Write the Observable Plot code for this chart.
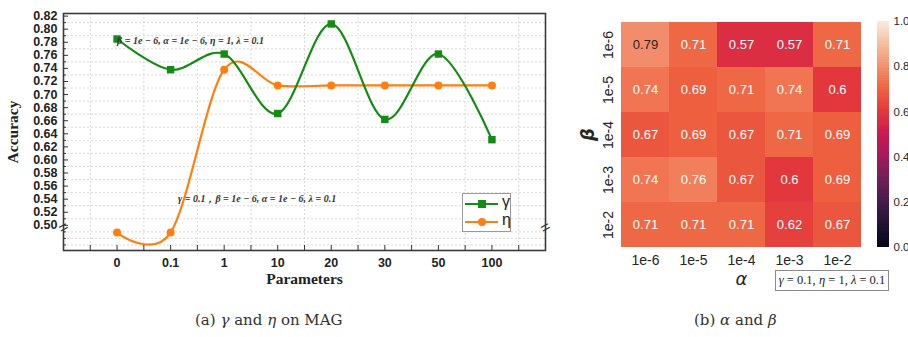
<!DOCTYPE html>
<html>
<head>
<meta charset="utf-8">
<script src="https://cdn.jsdelivr.net/npm/d3@7"></script>
<script src="https://cdn.jsdelivr.net/npm/@observablehq/plot@0.6"></script>
<style>
  html, body { margin: 0; padding: 0; background: #fff; }
  #wrap { position: relative; width: 908px; height: 337px; overflow: hidden; background: #fff; }
  .abs { position: absolute; }
  .cap { position: absolute; top: 311px; font-family: "DejaVu Serif", serif; font-size: 15px; color: #333; white-space: nowrap; }
  .cap i { font-style: italic; }
  #legend { position: absolute; left: 462px; top: 193px; width: 47px; height: 37px; border: 1px solid #9a9a9a; background: #fff; }
  .lrow { position: absolute; left: 2px; height: 16px; width: 46px; }
  .lline { position: absolute; left: 0; top: 7px; width: 33px; height: 2px; }
  .lmark { position: absolute; left: 13px; }
  .llab { position: absolute; left: 37px; top: -3px; font-family: "Liberation Sans", sans-serif; font-size: 16px; color: #222; }
  #note { position: absolute; left: 775px; top: 270px; width: 112px; height: 19px; border: 1px solid #8a8a8a; font-family: "Liberation Serif", serif; font-size: 12.5px; line-height: 19px; text-align: center; color: #222; white-space: nowrap; }
</style>
</head>
<body>
<div id="wrap">
  <div id="left" class="abs" style="left:0;top:0"></div>
  <div id="right" class="abs" style="left:570px;top:0"></div>
  <div id="cbar" class="abs" style="left:868px;top:0"></div>
  <div id="legend"></div>
  <div id="note"></div>
  <div class="cap" style="left:195px">(a) <i>γ</i> and <i>η</i> on MAG</div>
  <div class="cap" style="left:694px">(b) <i>α</i> and <i>β</i></div>
</div>
<script>
// ---------- Data: left panel ----------
const params = ["0", "0.1", "1", "10", "20", "30", "50", "100"];
const gammaAcc = [0.785, 0.738, 0.762, 0.671, 0.808, 0.662, 0.762, 0.631];
const etaAcc = [0.489, 0.489, 0.738, 0.714, 0.714, 0.714, 0.714, 0.714];
const yMajorTicks = [0.50, 0.52, 0.54, 0.56, 0.58, 0.60, 0.62, 0.64, 0.66, 0.68, 0.70, 0.72, 0.74, 0.76, 0.78, 0.80, 0.82];
const yMinorTicks = [0.47, 0.48, 0.49, 0.51, 0.53, 0.55, 0.57, 0.59, 0.61, 0.63, 0.65, 0.67, 0.69, 0.71, 0.73, 0.75, 0.77, 0.79, 0.81];
const yGridLines = [0.47, 0.48, 0.49, 0.51, 0.53, 0.55, 0.57, 0.59, 0.61, 0.63, 0.65, 0.67, 0.69, 0.71, 0.73, 0.75, 0.77, 0.79, 0.81];
const xHalfTicks = [-0.5, 0.5, 1.5, 2.5, 3.5, 4.5, 5.5, 6.5, 7.5];
const gammaNote = "β = 1e − 6, α = 1e − 6, η = 1, λ = 0.1";
const etaNote = "γ = 0.1，β = 1e − 6, α = 1e − 6, λ = 0.1";

// ---------- Data: right panel ----------
const alphas = ["1e-6", "1e-5", "1e-4", "1e-3", "1e-2"];
const betas = ["1e-6", "1e-5", "1e-4", "1e-3", "1e-2"];
const heatValues = [
  [0.79, 0.71, 0.57, 0.57, 0.71],
  [0.74, 0.69, 0.71, 0.74, 0.6],
  [0.67, 0.69, 0.67, 0.71, 0.69],
  [0.74, 0.76, 0.67, 0.6, 0.69],
  [0.71, 0.71, 0.71, 0.62, 0.67]
];
const cbarTicks = [0, 0.2, 0.4, 0.6, 0.8, 1.0];
const rocketCol = ["#03051a", "#221331", "#461b4c", "#701f57", "#a21a5b", "#ca1a50", "#e2373d", "#ef6340", "#f3916f", "#f6bea0", "#faebdd"];

const green = "#148c14";
const orange = "#ff7f0e";

const idx = params.map((_, i) => i);
const gammaData = idx.map(i => ({i, v: gammaAcc[i]}));
const etaData = idx.map(i => ({i, v: etaAcc[i]}));

const serif = "'Liberation Serif', 'Times New Roman', serif";

const left = Plot.plot({
  width: 560, height: 300,
  marginLeft: 63, marginRight: 15, marginTop: 13, marginBottom: 50,
  style: {fontFamily: "'Liberation Sans', Arial, sans-serif", fontWeight: "bold", fontSize: "12.5px", color: "#222", background: "transparent"},
  x: {domain: [-1, 8]},
  y: {domain: [0.4615, 0.824]},
  marks: [
    Plot.ruleY(yGridLines, {y: d => d, stroke: "#cfcfcf", strokeDasharray: "2,2", strokeWidth: 0.8}),
    Plot.ruleX(xHalfTicks, {x: d => d, stroke: "#cfcfcf", strokeDasharray: "2,2", strokeWidth: 0.8}),
    Plot.line(etaData, {x: "i", y: "v", stroke: orange, strokeWidth: 2.2, curve: "cardinal", tension: 0}),
    Plot.line(gammaData, {x: "i", y: "v", stroke: green, strokeWidth: 2.2, curve: "cardinal", tension: 0}),
    Plot.dot(etaData, {x: "i", y: "v", fill: orange, r: 4, symbol: "circle"}),
    Plot.dot(gammaData, {x: "i", y: "v", fill: green, r: 4.2, symbol: "square"}),
    Plot.text([gammaNote], {x: 0, y: 0.783, text: d => d, textAnchor: "start", fontFamily: serif, fontStyle: "italic", fontWeight: "bold", fontSize: 10, fill: "#333"}),
    Plot.text([etaNote], {x: 1.14, y: 0.541, text: d => d, textAnchor: "start", fontFamily: serif, fontStyle: "italic", fontWeight: "bold", fontSize: 10, fill: "#333"}),
    Plot.text(["="], {x: -1, y: 0.4965, text: d => d, rotate: -28, fontSize: 16, fontWeight: "normal", fill: "#333"}),
    Plot.text(["="], {x: 8, y: 0.4965, text: d => d, rotate: -28, fontSize: 16, fontWeight: "normal", fill: "#333"}),
    Plot.frame({stroke: "#3a3a3a", strokeWidth: 1.6}),
    Plot.axisY(yMajorTicks, {tickSize: 0, tickPadding: 6, tickFormat: d => d.toFixed(2), label: null}),
    Plot.axisY(yMajorTicks, {tickSize: 5, dx: 5, tickFormat: () => "", label: null, stroke: "#333"}),
    Plot.axisY(yMinorTicks, {tickSize: 3, dx: 3, tickFormat: () => "", label: null, stroke: "#333"}),
    Plot.axisX(idx, {tickSize: 0, tickPadding: 8, tickFormat: i => params[i], label: null}),
    Plot.axisX(idx.concat(xHalfTicks), {tickSize: 5, dy: -5, tickFormat: () => "", label: null, stroke: "#333"}),
    Plot.text(["Accuracy"], {frameAnchor: "left", textAnchor: "middle", dx: -50, rotate: -90, text: d => d, fontFamily: serif, fontWeight: "bold", fontSize: 15.5, fill: "#222"}),
    Plot.text(["Parameters"], {frameAnchor: "bottom", dy: 33, text: d => d, fontFamily: serif, fontWeight: "bold", fontSize: 15.5, fill: "#222"})
  ]
});
document.getElementById("left").appendChild(left);

// Legend
const legend = document.getElementById("legend");
[["γ", green, "square"], ["η", orange, "circle"]].forEach(([lab, col, shape], k) => {
  const row = document.createElement("div");
  row.className = "lrow";
  row.style.top = (k === 0 ? 2 : 20) + "px";
  const ln = document.createElement("div");
  ln.className = "lline"; ln.style.background = col;
  const mk = document.createElement("div");
  mk.className = "lmark";
  mk.style.background = col;
  mk.style.width = "8px"; mk.style.height = "8px"; mk.style.top = "4px";
  if (shape === "circle") mk.style.borderRadius = "50%";
  const tx = document.createElement("div");
  tx.className = "llab"; tx.textContent = lab;
  row.appendChild(ln); row.appendChild(mk); row.appendChild(tx);
  legend.appendChild(row);
});

// ---------- Heatmap ----------
const heatData = [];
betas.forEach((b, r) => alphas.forEach((a, c) => heatData.push({a, b, v: heatValues[r][c]})));
const rocket = d3.piecewise(d3.interpolateRgb, rocketCol);

const right = Plot.plot({
  width: 298, height: 300,
  marginLeft: 50, marginRight: 6, marginTop: 21, marginBottom: 53,
  style: {fontFamily: "'Liberation Sans', Arial, sans-serif", fontSize: "14px", color: "#262626", background: "transparent"},
  x: {domain: alphas, padding: 0},
  y: {domain: betas, padding: 0},
  marks: [
    Plot.cell(heatData, {x: "a", y: "b", fill: d => rocket(d.v), inset: 0, shapeRendering: "crispEdges"}),
    Plot.text(heatData, {x: "a", y: "b", text: d => String(d.v), fill: d => d.v >= 0.78 ? "#262626" : "#ffffff", fontSize: 13}),
    Plot.axisX({tickSize: 0, tickPadding: 8, label: null, fontSize: 14}),
    Plot.axisY({tickSize: 0, tickPadding: 8, tickRotate: -90, label: null, fontSize: 14}),
    Plot.text(["α"], {frameAnchor: "bottom", dy: 37, text: d => d, fontFamily: "'DejaVu Sans', sans-serif", fontStyle: "italic", fontSize: 18, fill: "#262626"}),
    Plot.text(["β"], {frameAnchor: "left", textAnchor: "middle", dx: -32, rotate: -90, text: d => d, fontFamily: "'DejaVu Sans', sans-serif", fontStyle: "italic", fontWeight: "bold", fontSize: 18, fill: "#262626"})
  ]
});
document.getElementById("right").appendChild(right);

document.getElementById("note").innerHTML = "<i>γ</i> = 0.1, <i>η</i> = 1, <i>λ</i> = 0.1";

// ---------- Colorbar ----------
const steps = d3.range(0, 1, 0.01);
const cbar = Plot.plot({
  width: 40, height: 300,
  marginLeft: 9, marginRight: 19, marginTop: 21, marginBottom: 53,
  style: {fontFamily: "'Liberation Sans', Arial, sans-serif", fontSize: "11.5px", color: "#262626", background: "transparent", overflow: "visible"},
  x: {domain: [0, 1], axis: null},
  y: {domain: [0, 1]},
  marks: [
    Plot.rect(steps, {x1: 0, x2: 1, y1: d => d, y2: d => Math.min(1, d + 0.02), fill: d => rocket(d + 0.005), shapeRendering: "crispEdges"}),
    Plot.axisY(cbarTicks, {anchor: "right", tickSize: 0, tickPadding: 4, tickFormat: d => d.toFixed(1), label: null})
  ]
});
document.getElementById("cbar").appendChild(cbar);
</script>
</body>
</html>
